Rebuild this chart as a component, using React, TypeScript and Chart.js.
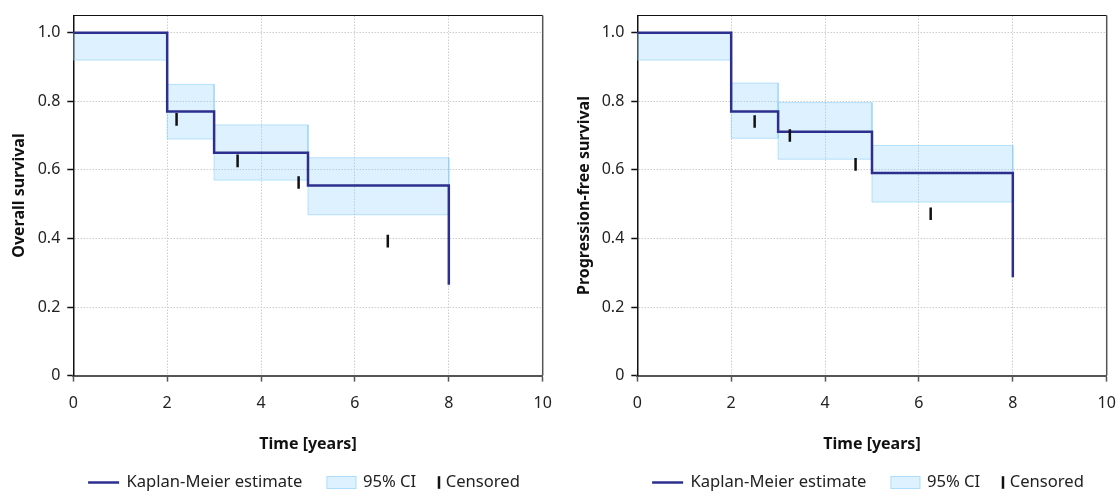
import React, { useEffect, useRef } from 'react';
import { Chart, registerables } from 'chart.js';

Chart.register(...registerables);

// ---- axis ticks & labels ----
const timeTicks = [0, 2, 4, 6, 8, 10];
const survivalTicks = [0, 0.2, 0.4, 0.6, 0.8, 1.0];
const xTitle = 'Time [years]';
const legendLabels = ['Kaplan-Meier estimate', '95% CI', 'Censored'];

// ---- Overall survival ----
const osEventTimes = [0, 2, 3, 5, 8];
const osSurvival = [1.0, 0.77, 0.65, 0.554, 0.265];
const osCiStart = [0, 2, 3, 5];
const osCiEnd = [2, 3, 5, 8];
const osCiLower = [0.92, 0.69, 0.57, 0.469];
const osCiUpper = [1.0, 0.849, 0.731, 0.635];
const osCensoredTimes = [2.2, 3.5, 4.8, 6.7];
const osCensoredSurvival = [0.747, 0.626, 0.563, 0.392];

// ---- Progression-free survival ----
const pfsEventTimes = [0, 2, 3, 5, 8];
const pfsSurvival = [1.0, 0.77, 0.711, 0.591, 0.287];
const pfsCiStart = [0, 2, 3, 5];
const pfsCiEnd = [2, 3, 5, 8];
const pfsCiLower = [0.92, 0.692, 0.631, 0.506];
const pfsCiUpper = [1.0, 0.853, 0.796, 0.671];
const pfsCensoredTimes = [2.5, 3.25, 4.65, 6.25];
const pfsCensoredSurvival = [0.741, 0.7, 0.616, 0.472];

// ---- styles ----
const FONT = "'Noto Sans', sans-serif";
const KM_COLOR = '#2d2f8e';
const CI_FILL = 'rgba(135, 206, 250, 0.28)';
const CI_BORDER = 'rgba(135, 206, 250, 0.55)';
const GRID_COLOR = '#cdcdcd';
const TEXT_COLOR = '#222';

Chart.defaults.font.family = FONT;
Chart.defaults.font.size = 16;
Chart.defaults.color = TEXT_COLOR;

type PanelSpec = {
  yTitle: string;
  eventTimes: number[];
  survival: number[];
  ciStart: number[];
  ciEnd: number[];
  ciLower: number[];
  ciUpper: number[];
  censoredTimes: number[];
  censoredSurvival: number[];
  yWidth: number;
  yTitlePad: number;
  padRight: number;
};

const osSpec: PanelSpec = {
  yTitle: 'Overall survival',
  eventTimes: osEventTimes,
  survival: osSurvival,
  ciStart: osCiStart,
  ciEnd: osCiEnd,
  ciLower: osCiLower,
  ciUpper: osCiUpper,
  censoredTimes: osCensoredTimes,
  censoredSurvival: osCensoredSurvival,
  yWidth: 73.3,
  yTitlePad: 9.4,
  padRight: 15.3,
};

const pfsSpec: PanelSpec = {
  yTitle: 'Progression-free survival',
  eventTimes: pfsEventTimes,
  survival: pfsSurvival,
  ciStart: pfsCiStart,
  ciEnd: pfsCiEnd,
  ciLower: pfsCiLower,
  ciUpper: pfsCiUpper,
  censoredTimes: pfsCensoredTimes,
  censoredSurvival: pfsCensoredSurvival,
  yWidth: 79.3,
  yTitlePad: 16.4,
  padRight: 9.3,
};

const framePlugin = {
  id: 'frame',
  afterDraw(chart: any) {
    const { ctx, chartArea } = chart;
    ctx.save();
    ctx.strokeStyle = '#111';
    ctx.lineWidth = 1.2;
    ctx.beginPath();
    ctx.moveTo(chartArea.left, chartArea.top);
    ctx.lineTo(chartArea.right, chartArea.top);
    ctx.stroke();
    ctx.strokeStyle = '#555';
    ctx.lineWidth = 1.5;
    ctx.beginPath();
    ctx.moveTo(chartArea.right, chartArea.top);
    ctx.lineTo(chartArea.right, chartArea.bottom);
    ctx.stroke();
    ctx.restore();
  },
};

const legendPlugin = {
  id: 'kmLegend',
  afterDraw(chart: any) {
    const { ctx, chartArea } = chart;
    ctx.save();
    ctx.font = `16.6px ${FONT}`;
    ctx.textBaseline = 'middle';
    const w1 = ctx.measureText(legendLabels[0]).width;
    const w2 = ctx.measureText(legendLabels[1]).width;
    const w3 = ctx.measureText(legendLabels[2]).width;
    const total = 31 + 7.4 + w1 + 24 + 30 + 6.6 + w2 + 21.5 + 2.5 + 5.5 + w3;
    let x = (chartArea.left + chartArea.right) / 2 - 4 - total / 2;
    const y = chart.height - 10.5;

    ctx.strokeStyle = KM_COLOR;
    ctx.lineWidth = 2.5;
    ctx.beginPath();
    ctx.moveTo(x, y);
    ctx.lineTo(x + 31, y);
    ctx.stroke();
    x += 31 + 7.4;
    ctx.fillStyle = TEXT_COLOR;
    ctx.fillText(legendLabels[0], x, y);
    x += w1 + 24;

    ctx.fillStyle = CI_FILL;
    ctx.fillRect(x, y - 6.5, 30, 13);
    ctx.strokeStyle = CI_BORDER;
    ctx.lineWidth = 1;
    ctx.strokeRect(x + 0.5, y - 6, 29, 12);
    x += 30 + 6.6;
    ctx.fillStyle = TEXT_COLOR;
    ctx.fillText(legendLabels[1], x, y);
    x += w2 + 21.5;

    ctx.strokeStyle = '#111';
    ctx.lineWidth = 2.5;
    ctx.beginPath();
    ctx.moveTo(x + 1.25, y - 6.3);
    ctx.lineTo(x + 1.25, y + 6.3);
    ctx.stroke();
    x += 2.5 + 5.5;
    ctx.fillStyle = TEXT_COLOR;
    ctx.fillText(legendLabels[2], x, y);
    ctx.restore();
  },
};

function buildConfig(p: PanelSpec): any {
  const datasets: any[] = [];
  datasets.push({
    label: 'Censored',
    data: p.censoredTimes.map((t, i) => ({ x: t, y: p.censoredSurvival[i] })),
    showLine: false,
    pointStyle: 'line',
    pointRotation: 90,
    pointRadius: 6.3,
    pointBorderWidth: 2.5,
    pointBorderColor: '#111',
    pointBackgroundColor: '#111',
    borderColor: '#111',
  });
  datasets.push({
    label: 'Kaplan-Meier estimate',
    data: p.eventTimes.map((t, i) => ({ x: t, y: p.survival[i] })),
    stepped: true,
    borderColor: KM_COLOR,
    borderWidth: 2.5,
    pointRadius: 0,
    fill: false,
  });
  p.ciStart.forEach((x0, i) => {
    const x1 = p.ciEnd[i];
    const lo = p.ciLower[i];
    const hi = p.ciUpper[i];
    datasets.push({
      label: '95% CI',
      data: [
        { x: x0, y: lo },
        { x: x0, y: hi },
        { x: x1, y: hi },
        { x: x1, y: lo },
        { x: x0, y: lo },
      ],
      borderColor: CI_BORDER,
      backgroundColor: CI_FILL,
      borderWidth: 1,
      pointRadius: 0,
      fill: 'shape',
      tension: 0,
    });
  });

  return {
    type: 'line',
    data: { datasets },
    plugins: [framePlugin, legendPlugin],
    options: {
      animation: false,
      responsive: false,
      maintainAspectRatio: false,
      events: [],
      layout: { padding: { top: 15.5, left: 0, right: p.padRight, bottom: 36 } },
      plugins: {
        legend: { display: false },
        tooltip: { enabled: false },
      },
      scales: {
        x: {
          type: 'linear',
          min: 0,
          max: 10,
          afterBuildTicks: (s: any) => {
            s.ticks = timeTicks.map((v) => ({ value: v }));
          },
          afterFit: (s: any) => {
            s.height = 81.4;
            s.paddingLeft = 0;
            s.paddingRight = 0;
          },
          ticks: {
            padding: 12.5,
            font: { size: 16 },
            color: TEXT_COLOR,
            autoSkip: false,
            maxRotation: 0,
            callback: (v: any) => String(v),
          },
          grid: {
            color: GRID_COLOR,
            lineWidth: 1,
            drawTicks: true,
            tickLength: 6,
            tickColor: '#555',
            tickWidth: 1.5,
            tickBorderDash: [],
          },
          border: { display: true, color: '#555', width: 2, dash: [1.5, 1.5] },
          title: {
            display: true,
            text: xTitle,
            font: { size: 16, weight: 'bold' },
            color: '#111',
            padding: { top: 0, bottom: 3 },
          },
        },
        y: {
          type: 'linear',
          min: 0,
          max: 1.05,
          afterBuildTicks: (s: any) => {
            s.ticks = survivalTicks.map((v) => ({ value: v }));
          },
          afterFit: (s: any) => {
            s.width = p.yWidth;
            s.paddingTop = 0;
            s.paddingBottom = 0;
          },
          ticks: {
            padding: 7,
            font: { size: 16 },
            color: TEXT_COLOR,
            callback: (v: any) => (v === 0 ? '0' : Number(v).toFixed(1)),
          },
          grid: {
            color: GRID_COLOR,
            lineWidth: 1,
            drawTicks: true,
            tickLength: 6,
            tickColor: '#111',
            tickWidth: 1.5,
            tickBorderDash: [],
          },
          border: { display: true, color: '#111', width: 1.5, dash: [1.5, 1.5] },
          title: {
            display: true,
            text: p.yTitle,
            font: { size: 16, weight: 'bold' },
            color: '#111',
            padding: { top: p.yTitlePad, bottom: 0 },
          },
        },
      },
    },
  };
}

function Panel({ spec, left }: { spec: PanelSpec; left: number }) {
  const ref = useRef<HTMLCanvasElement | null>(null);
  useEffect(() => {
    if (!ref.current) return;
    const chart = new Chart(ref.current, buildConfig(spec));
    return () => chart.destroy();
  }, [spec]);
  return (
    <canvas
      ref={ref}
      width={558}
      height={493}
      style={{ position: 'absolute', left, top: 0, width: 558, height: 493 }}
    />
  );
}

export default function App() {
  return (
    <div style={{ position: 'absolute', left: 0, top: 0, width: 1116, height: 493, background: '#fff' }}>
      <Panel spec={osSpec} left={0} />
      <Panel spec={pfsSpec} left={558} />
    </div>
  );
}
